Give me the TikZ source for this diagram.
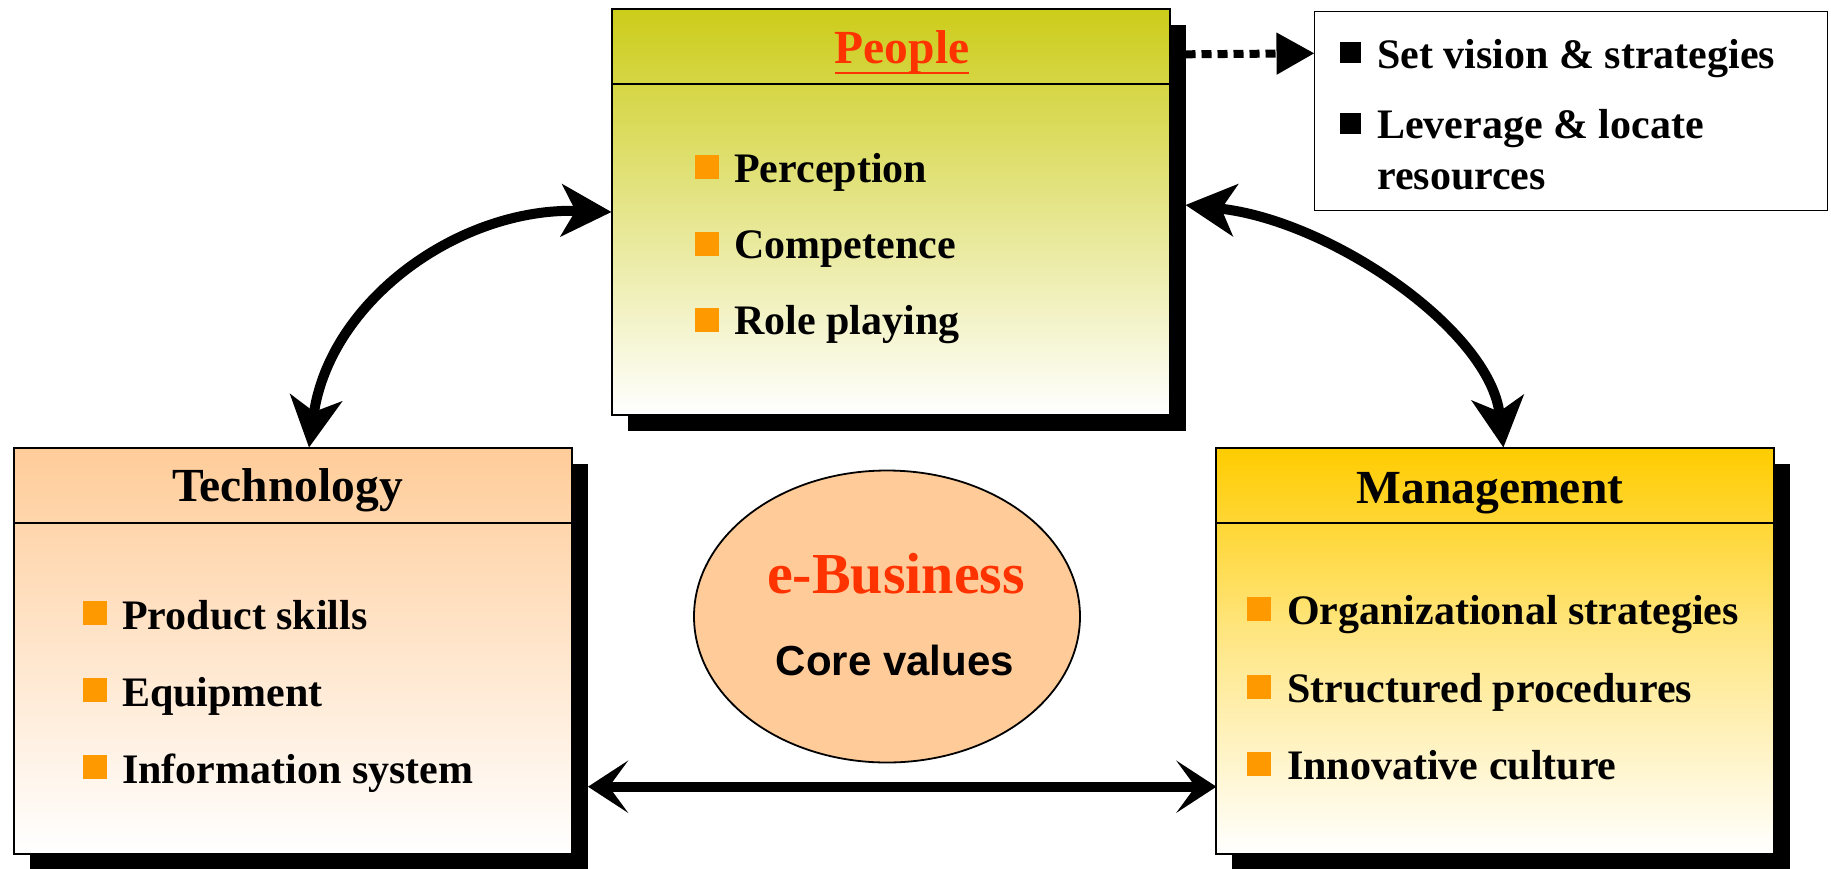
\documentclass[tikz,border=0pt]{standalone}
\usepackage{fontspec}
\setmainfont{Liberation Serif}
\setsansfont{Liberation Sans}
\usetikzlibrary{arrows.meta,shadows,calc,shapes.geometric}
\definecolor{pplC}{RGB}{204,204,26}
\definecolor{techC}{RGB}{255,204,153}
\definecolor{mgmtC}{RGB}{255,204,0}
\definecolor{bulC}{RGB}{255,153,0}
\definecolor{redC}{RGB}{255,51,0}
\begin{document}
\begin{tikzpicture}[x=1pt,y=-1pt,
  box/.style={draw=black, line width=2pt, minimum width=558pt, minimum height=406pt, inner sep=0pt, outer sep=0pt,
    general shadow={fill=black, shadow xshift=16pt, shadow yshift=-16pt}},
  hline/.style={line width=1.8pt},
  title/.style={inner sep=0pt, anchor=base, font=\bfseries\fontsize{47.5}{55}\selectfont},
  item/.style={inner sep=0pt, anchor=base west, font=\bfseries\fontsize{42}{50}\selectfont},
  bul/.style={fill=bulC, minimum size=24pt, inner sep=0pt},
  bbul/.style={fill=black, minimum size=21pt, inner sep=0pt},
  bigarrow/.style={line width=10pt, {Stealth[length=50pt,width=52pt,inset=14pt]}-{Stealth[length=50pt,width=52pt,inset=14pt]}},
  botarrow/.style={line width=10pt, {Stealth[length=40pt,width=52pt,inset=19pt]}-{Stealth[length=40pt,width=52pt,inset=19pt]}}
]
\useasboundingbox (0,0) rectangle (1831,868);

% boxes
\node[box, top color=pplC, bottom color=white] (ppl) at (890.5,212) {};
\node[box, top color=techC, bottom color=white] (tech) at (293,650.5) {};
\node[box, top color=mgmtC, bottom color=white, middle color=mgmtC!45!white] (mgmt) at (1495.4,650.5) {};
\node[draw=black, line width=1.8pt, minimum width=513pt, minimum height=199pt, inner sep=0pt, outer sep=0pt, fill=white] (setv) at (1571,111) {};

\draw[hline] ($(ppl.north west)+(0,75)$) -- ($(ppl.north east)+(0,75)$);
\draw[hline] ($(tech.north west)+(0,75.6)$) -- ($(tech.north east)+(0,75.6)$);
\draw[hline] ($(mgmt.north west)+(0,75.6)$) -- ($(mgmt.north east)+(0,75.6)$);

% titles
\node[title, text=redC] (pplT) at (902,63) {People};
\draw[redC, line width=2.5pt] ($(pplT.base west)+(0,10)$) -- ($(pplT.base east)+(0,10)$);
\node[title] (techT) at (287.5,501) {Technology};
\node[title] (mgmtT) at (1490,503) {Management};

% people items
\node[bul] (pb1) at (707,167) {};
\node[item] (pi1) at (734,182) {Perception};
\node[bul] (pb2) at (707,244) {};
\node[item] (pi2) at (734,258) {Competence};
\node[bul] (pb3) at (707,320) {};
\node[item] (pi3) at (734,334) {Role playing};

% technology items
\node[bul] (tb1) at (94.5,613) {};
\node[item] (ti1) at (122,629) {Product skills};
\node[bul] (tb2) at (94.5,690) {};
\node[item] (ti2) at (122,706) {Equipment};
\node[bul] (tb3) at (94.5,767) {};
\node[item] (ti3) at (122,783) {Information system};

% management items
\node[bul] (mb1) at (1258.5,609) {};
\node[item] (mi1) at (1287,624) {Organizational strategies};
\node[bul] (mb2) at (1258.5,687) {};
\node[item] (mi2) at (1287,702) {Structured procedures};
\node[bul] (mb3) at (1258.5,764) {};
\node[item] (mi3) at (1287,779) {Innovative culture};

% set vision items
\node[bbul] (sb1) at (1350,52) {};
\node[item] (si1) at (1377,68) {Set vision \& strategies};
\node[bbul] (sb2) at (1350,123) {};
\node[item] (si2) at (1377,138) {Leverage \& locate};
\node[item] (si3) at (1377,189) {resources};

% core ellipse
\node[ellipse, draw=black, line width=1.8pt, fill=techC, minimum width=386pt, minimum height=292pt, inner sep=0pt] (core) at (887,616.5) {};
\node[inner sep=0pt, anchor=base, text=redC, font=\bfseries\fontsize{58}{66}\selectfont] (eb) at (896,593) {e-Business};
\node[inner sep=0pt, anchor=base, font=\sffamily\bfseries\fontsize{42}{50}\selectfont] (cv) at (895,675) {Core values};

% connectors
\draw[line width=8pt, dash pattern=on 10pt off 6pt, -{Triangle[length=38pt,width=40pt]}]
  ($(ppl.north east)+(16,45.3)$) -- ($(setv.west)+(0,-57.7)$);
\draw[bigarrow] (ppl.west) .. controls (460,207) and (330,300) .. ($(tech.north)+(16,0)$);
\draw[bigarrow] ($(ppl.east)+(16,-7)$) .. controls (1330,220) and (1490,330) .. ($(mgmt.north)+(8,0)$);
\draw[botarrow] ($(tech.east)+(16,136.2)$) -- ($(mgmt.west)+(0,136.2)$);
\end{tikzpicture}
\end{document}
